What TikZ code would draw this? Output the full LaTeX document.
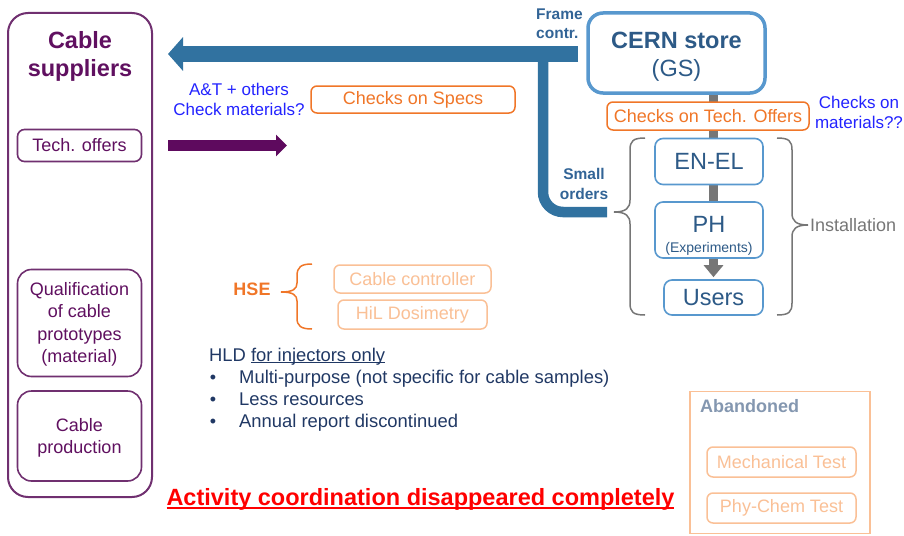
\documentclass[tikz,border=0pt]{standalone}
\usepackage{fontspec}
\setmainfont{Liberation Sans}
\usetikzlibrary{arrows.meta,backgrounds}
\definecolor{purpb}{RGB}{112,48,112}
\definecolor{purpt}{RGB}{96,16,96}
\definecolor{purpf}{RGB}{94,10,94}
\definecolor{bluef}{RGB}{49,114,160}
\definecolor{lblue}{RGB}{88,152,206}
\definecolor{dblue}{RGB}{45,90,135}
\definecolor{fblue}{RGB}{50,100,150}
\definecolor{btext}{RGB}{35,35,255}
\definecolor{orangec}{RGB}{240,118,40}
\definecolor{lorange}{RGB}{250,192,150}
\definecolor{navy}{RGB}{32,56,100}
\definecolor{grayc}{RGB}{118,118,118}
\definecolor{abcol}{RGB}{132,151,176}
\newcommand\setfs[2]{\fontsize{#1}{#2}\selectfont}
\newcommand\myuline[3]{\setbox0\hbox{#3}\rlap{\rule[-#1]{\wd0}{#2}}\box0}
\begin{document}
\begin{tikzpicture}[x=1pt,y=-1pt,
  every node/.style={inner sep=0pt, font=\setfs{18}{22}},
  pbox/.style={draw=purpb, line width=1.6pt, fill=white, text=purpt, align=center},
  bbox/.style={draw=lblue, line width=1.6pt, fill=white, text=dblue, rounded corners=8pt, align=center, font=\setfs{23.5}{28}},
  obox/.style={draw=orangec, line width=1.5pt, fill=white, text=orangec, rounded corners=6pt},
  lobox/.style={draw=lorange, line width=1.5pt, fill=white, text=lorange, rounded corners=6pt},
  bracegray/.style={draw=grayc, line width=1.5pt},
  braceorange/.style={draw=orangec, line width=1.5pt},
  btxt/.style={text=btext, align=center, font=\setfs{17}{20}},
  ftxt/.style={text=fblue, font=\bfseries\setfs{15.5}{19.5}},
  hldtxt/.style={text=navy, anchor=base west, font=\setfs{18.4}{22}}
]
\useasboundingbox (0,0) rectangle (904,535);

% Cable suppliers column
\node[pbox, minimum width=144pt, minimum height=484pt, rounded corners=20pt, line width=2pt] (sup) at (80,255) {};
\node[text=purpt, font=\bfseries\setfs{23.5}{28}, align=center] (suptitle) at (80,56) {Cable\\suppliers};
\node[pbox, minimum width=124pt, minimum height=32pt, rounded corners=7pt] (tech) at (79.5,145.5) {Tech. offers};
\node[pbox, minimum width=124pt, minimum height=107pt, rounded corners=14pt, font=\setfs{18}{22.3}] (qual) at (79.5,323) {\rule{0pt}{16pt}Qualification\\of cable\\prototypes\\(material)};
\node[pbox, minimum width=124pt, minimum height=90pt, rounded corners=14pt, font=\setfs{18}{22.5}] (prod) at (79.5,436) {\rule{0pt}{17pt}Cable\\production};

% CERN side
\node[bbox, line width=3.5pt, rounded corners=15pt, minimum width=177pt, minimum height=80pt] (cern) at (676.5,53) {\rule{0pt}{23pt}\textbf{CERN store}\\(GS)};
\node[obox, minimum width=202pt, minimum height=28pt] (cto) at (708,116) {Checks on Tech. Offers};
\node[bbox, minimum width=108pt, minimum height=46pt] (enel) at (709,161.5) {EN-EL};
\node[bbox, minimum width=108pt, minimum height=56pt] (ph) at (709,230) {\rule{0pt}{28pt}PH\\[-8pt]{\setfs{14}{16}(Experiments)}};
\node[bbox, minimum width=99pt, minimum height=35pt] (users) at (713.5,297.5) {Users};

\begin{scope}[on background layer]
  \draw[grayc, line width=9pt, -{Triangle[width=19pt,length=12pt]}, shorten >=2pt] (users.north |- cern.south) -- (users.north);
\end{scope}

% labels
\node[ftxt, align=left, anchor=west] (frame) at (536,23.5) {Frame\\contr.};
\node[ftxt, align=center] (small) at (584,184) {Small\\orders};
\node[btxt] (at) at (239,99.5) {A\&T + others\\Check materials?};
\node[btxt] (ctm) at (859,112) {Checks on\\materials??};
\node[text=grayc, anchor=west] (inst) at (810,225) {Installation};
\node[obox, minimum width=204pt, minimum height=27pt] (specs) at (413,99.5) {Checks on Specs};

% thick arrows
\coordinate (bstart) at (578,54);
\coordinate (btip) at (614,212);
\coordinate (pend) at (287,145.5);
\draw[bluef, line width=16pt, -{Triangle[width=33pt,length=15pt]}, shorten >=15pt] (bstart) -- (sup.east |- bstart);
\draw[bluef, line width=10.5pt, rounded corners=20pt] (543,47) -- (543,212) -- ([xshift=-7pt]btip);
\draw[purpf, line width=11pt, -{Triangle[width=21pt,length=11pt]}, shorten <=26pt] (tech.east) -- (pend);

% braces
\draw[bracegray] (645,138) .. controls (633,138) and (630,141) .. (630,150) -- (630,200) .. controls (630,208) and (626,212) .. (btip) .. controls (626,212) and (630,216) .. (630,224) -- (630,303) .. controls (630,312) and (633,315) .. (645,315);
\coordinate (rtip) at (808,225);
\draw[bracegray] (777,138) .. controls (789,138) and (792,141) .. (792,150) -- (792,213) .. controls (792,221) and (796,225) .. (rtip) .. controls (796,225) and (792,229) .. (792,237) -- (792,303) .. controls (792,312) and (789,315) .. (777,315);

% HSE
\node[text=orangec, font=\bfseries\setfs{18}{22}] (hse) at (252,289) {HSE};
\coordinate (htip) at (281,292);
\draw[braceorange] (312,264) .. controls (301,264) and (297,267) .. (297,276) -- (297,283) .. controls (297,289) and (293,292) .. (htip) .. controls (293,292) and (297,295) .. (297,301) -- (297,318) .. controls (297,326) and (301,329) .. (312,329);
\node[lobox, minimum width=157pt, minimum height=28pt] (cc) at (412.5,279) {Cable controller};
\node[lobox, minimum width=149pt, minimum height=29pt] (hil) at (412.5,314.5) {HiL Dosimetry};

% HLD text
\node[hldtxt] (hld) at (209,361) {HLD \myuline{2pt}{1pt}{for injectors only}};
\node[text=navy, anchor=base] (b1) at (213,383) {•};
\node[text=navy, anchor=base] (b2) at (213,405) {•};
\node[text=navy, anchor=base] (b3) at (213,427) {•};
\node[hldtxt] (l1) at (239,383) {Multi-purpose (not specific for cable samples)};
\node[hldtxt] (l2) at (239,405) {Less resources};
\node[hldtxt] (l3) at (239,427) {Annual report discontinued};

% Activity
\node[text=red, anchor=base, font=\bfseries\setfs{23.5}{28}] (act) at (420.5,505.5) {\myuline{3.5pt}{2pt}{Activity coordination disappeared completely}};

% Abandoned
\node[draw=lorange, line width=1.5pt, minimum width=180pt, minimum height=142pt] (aband) at (780,462.5) {};
\node[text=abcol, font=\bfseries\setfs{18}{22}, anchor=west] (abl) at (700,406) {Abandoned};
\node[lobox, minimum width=149pt, minimum height=30pt] (mech) at (781.5,462) {Mechanical Test};
\node[lobox, minimum width=149pt, minimum height=30pt] (phy) at (781.5,508) {Phy-Chem Test};
\end{tikzpicture}
\end{document}
